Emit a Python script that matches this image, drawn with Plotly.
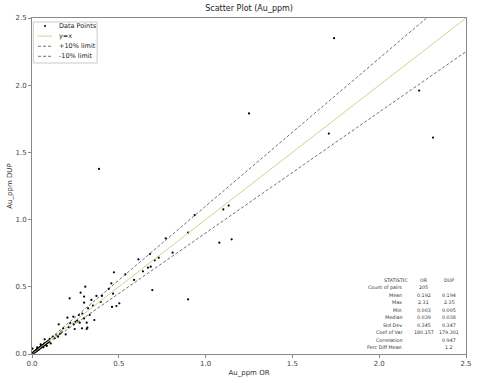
import plotly.graph_objects as go

# ---- data ----
or_main = [0.386, 1.25, 1.74, 1.71, 2.23, 2.31,
           1.133, 1.102, 1.079, 1.150, 0.937, 0.899, 0.770, 0.810, 0.730, 0.707, 0.680, 0.613,
           0.684, 0.668, 0.639, 0.588, 0.538, 0.693, 0.899, 0.472, 0.457, 0.442, 0.467, 0.461,
           0.486, 0.503, 0.396, 0.403, 0.371, 0.342, 0.351, 0.307, 0.280, 0.300, 0.300, 0.217,
           0.323, 0.332, 0.300, 0.315, 0.319, 0.315, 0.288, 0.359, 0.275, 0.238, 0.204, 0.246,
           0.240, 0.154, 0.194, 0.169, 0.102, 0.073, 0.108, 0.131, 0.150, 0.003,
           0.12, 0.14, 0.16, 0.18, 0.21, 0.22, 0.26, 0.27, 0.25, 0.29]
dup_main = [1.377, 1.79, 2.35, 1.64, 1.96, 1.61,
            1.104, 1.076, 0.828, 0.853, 1.034, 0.903, 0.861, 0.754, 0.717, 0.697, 0.744, 0.704,
            0.650, 0.642, 0.615, 0.551, 0.593, 0.476, 0.407, 0.608, 0.526, 0.484, 0.449, 0.350,
            0.357, 0.377, 0.387, 0.432, 0.432, 0.402, 0.360, 0.501, 0.456, 0.427, 0.382, 0.414,
            0.340, 0.290, 0.265, 0.233, 0.196, 0.186, 0.191, 0.253, 0.233, 0.278, 0.270, 0.186,
            0.221, 0.221, 0.146, 0.166, 0.112, 0.109, 0.079, 0.117, 0.129, 0.040,
            0.13, 0.14, 0.15, 0.19, 0.20, 0.23, 0.25, 0.29, 0.24, 0.30]
or_low = [0.003, 0.006, 0.008, 0.009, 0.011, 0.012, 0.013, 0.014, 0.015, 0.016,
          0.017, 0.018, 0.019, 0.020, 0.021, 0.022, 0.023, 0.024, 0.025, 0.026,
          0.027, 0.028, 0.029, 0.030, 0.031, 0.032, 0.033, 0.034, 0.035, 0.036,
          0.037, 0.038, 0.039, 0.040, 0.041, 0.042, 0.044, 0.045, 0.046, 0.048,
          0.049, 0.050, 0.052, 0.054, 0.055, 0.057, 0.058, 0.060, 0.062, 0.064,
          0.066, 0.067, 0.069, 0.071, 0.073, 0.075, 0.078, 0.080, 0.082, 0.085,
          0.087, 0.090, 0.093, 0.095, 0.098, 0.010, 0.018, 0.025, 0.033, 0.041,
          0.012, 0.020, 0.028, 0.036, 0.046, 0.056, 0.016, 0.030, 0.052, 0.070,
          0.050, 0.065, 0.030, 0.085]
dup_low = [0.005, 0.007, 0.010, 0.008, 0.013, 0.011, 0.015, 0.012, 0.017, 0.014,
           0.019, 0.016, 0.022, 0.018, 0.024, 0.020, 0.026, 0.022, 0.027, 0.024,
           0.030, 0.025, 0.032, 0.028, 0.034, 0.029, 0.036, 0.031, 0.038, 0.033,
           0.040, 0.035, 0.042, 0.037, 0.045, 0.039, 0.047, 0.042, 0.050, 0.044,
           0.053, 0.046, 0.056, 0.050, 0.059, 0.052, 0.062, 0.055, 0.066, 0.058,
           0.070, 0.061, 0.073, 0.065, 0.077, 0.069, 0.082, 0.072, 0.086, 0.078,
           0.090, 0.083, 0.098, 0.088, 0.092, 0.014, 0.022, 0.021, 0.040, 0.036,
           0.016, 0.025, 0.034, 0.032, 0.052, 0.062, 0.020, 0.037, 0.060, 0.078,
           0.072, 0.050, 0.050, 0.060]

line_x = [0.0, 2.5]
upper_factor = 1.1
lower_factor = 0.9

legend_labels = ["Data Points", "y=x", "+10% limit", "-10% limit"]

stat_labels = ["Count of pairs", "Mean", "Max", "Min", "Median", "Std Dev",
               "Coef of Var", "Correlation", "Perc Diff Mean"]
stat_or = ["205", "0.192", "2.31", "0.003", "0.039", "0.345", "180.157", "", ""]
stat_dup = ["", "0.194", "2.35", "0.005", "0.038", "0.347", "179.301", "0.947", "1.2"]

ticks = [0.0, 0.5, 1.0, 1.5, 2.0, 2.5]
tick_text = ["0.0", "0.5", "1.0", "1.5", "2.0", "2.5"]

# ---- figure ----
xs = or_main + or_low
ys = dup_main + dup_low
FONT = "DejaVu Sans"
YX_COLOR = "#cfd38f"
DASH_COLOR = "#333333"

fig = go.Figure()
fig.add_trace(go.Scatter(x=xs, y=ys, mode="markers", name=legend_labels[0],
                         marker=dict(color="black", size=2.2, line=dict(width=0))))
fig.add_trace(go.Scatter(x=line_x, y=line_x, mode="lines", name=legend_labels[1],
                         line=dict(color=YX_COLOR, width=1)))
fig.add_trace(go.Scatter(x=line_x, y=[v * upper_factor for v in line_x], mode="lines",
                         name=legend_labels[2], line=dict(color=DASH_COLOR, width=0.7, dash="3px,2px")))
fig.add_trace(go.Scatter(x=line_x, y=[v * lower_factor for v in line_x], mode="lines",
                         name=legend_labels[3], line=dict(color=DASH_COLOR, width=0.7, dash="3px,2px")))

axis_common = dict(range=[0, 2.5], tickvals=ticks, ticktext=tick_text, showgrid=False,
                   zeroline=False, showline=True, linecolor="#888888", linewidth=1, mirror=True,
                   ticks="outside", ticklen=3, tickcolor="#888888", automargin=False,
                   tickfont=dict(size=7, color="#444444", family=FONT))
fig.update_xaxes(**axis_common, title=dict(text="Au_ppm OR", font=dict(size=7, color="#333333", family=FONT), standoff=2))
fig.update_yaxes(**axis_common, title=dict(text="Au_ppm DUP", font=dict(size=7, color="#333333", family=FONT), standoff=2))

# statistics table
row_h = 0.0224
y0 = 0.220
X_LAB, X_OR, X_DUP = 0.857, 0.903, 0.961
anns = [dict(text="STATISTIC", x=0.839, y=y0, xanchor="center")]
anns.append(dict(text="OR", x=X_OR, y=y0, xanchor="center"))
anns.append(dict(text="DUP", x=X_DUP, y=y0, xanchor="center"))
for i, lab in enumerate(stat_labels):
    yy = y0 - (i + 1) * row_h
    anns.append(dict(text=lab, x=X_LAB, y=yy, xanchor="right"))
    if stat_or[i]:
        anns.append(dict(text=stat_or[i], x=X_OR, y=yy, xanchor="center"))
    if stat_dup[i]:
        anns.append(dict(text=stat_dup[i], x=X_DUP, y=yy, xanchor="center"))
for a in anns:
    a.update(xref="paper", yref="paper", yanchor="middle", showarrow=False,
             font=dict(size=4.8, color="#333333", family=FONT))

# custom compact legend (matplotlib style)
shapes = [dict(type="rect", xref="paper", yref="paper", x0=0.003, x1=0.150, y0=0.866, y1=0.988,
               line=dict(color="#cccccc", width=1), fillcolor="white", layer="above")]
row_y = [0.976, 0.946, 0.916, 0.886]
shapes.append(dict(type="circle", xref="paper", yref="paper", xsizemode="pixel", ysizemode="pixel",
                   xanchor=0.030, yanchor=row_y[0], x0=-1, x1=1, y0=-1, y1=1,
                   fillcolor="black", line=dict(width=0), layer="above"))
shapes.append(dict(type="line", xref="paper", yref="paper", x0=0.014, x1=0.046, y0=row_y[1], y1=row_y[1],
                   line=dict(color=YX_COLOR, width=1), layer="above"))
for ry in row_y[2:]:
    shapes.append(dict(type="line", xref="paper", yref="paper", x0=0.014, x1=0.046, y0=ry, y1=ry,
                       line=dict(color=DASH_COLOR, width=0.7, dash="3px,2px"), layer="above"))
for lab, ry in zip(legend_labels, row_y):
    anns.append(dict(text=lab, x=0.058, y=ry, xref="paper", yref="paper", xanchor="left",
                     yanchor="middle", showarrow=False, font=dict(size=6.5, color="#222222", family=FONT)))

fig.update_layout(
    width=479, height=383,
    margin=dict(l=32, r=13, t=18, b=29),
    paper_bgcolor="white", plot_bgcolor="white",
    title=dict(text="Scatter Plot (Au_ppm)", x=0.52, xanchor="center", y=0.979, yanchor="middle",
               font=dict(size=8, color="#222222", family=FONT)),
    showlegend=False,
    annotations=anns,
    shapes=shapes,
)

fig.write_html("out.html", config={"displayModeBar": False},
               post_script="document.body.style.margin='0';document.body.style.overflow='hidden';")
